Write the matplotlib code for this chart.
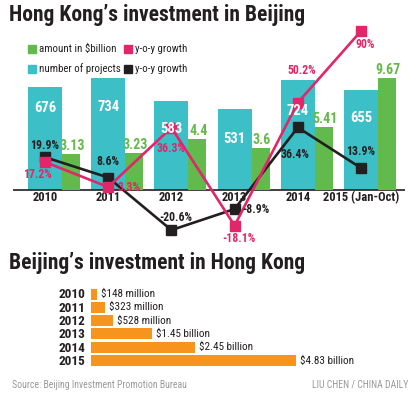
import numpy as np
import matplotlib.pyplot as plt
from matplotlib import font_manager
from matplotlib.patches import Rectangle

# Hong Kong's investment in Beijing
years = ['2010', '2011', '2012', '2013', '2014', '2015 (Jan-Oct)']
projects = [676, 734, 583, 531, 724, 655]
amount = [3.13, 3.23, 4.4, 3.6, 5.41, 9.67]            # $ billion
amount_growth = [17.2, 3.3, 36.3, -18.1, 50.2, 90]      # %
project_growth = [19.9, 8.6, -20.6, -8.9, 36.4, 13.9]   # %

# Beijing's investment in Hong Kong
bj_years = ['2010', '2011', '2012', '2013', '2014', '2015']
bj_invest = [148, 323, 528, 1450, 2450, 4830]           # $ million
bj_labels = ['$148 million', '$323 million', '$528 million',
             '$1.45 billion', '$2.45 billion', '$4.83 billion']

installed = {f.name for f in font_manager.fontManager.ttflist}

def pick(cands):
    for c in cands:
        if c in installed:
            return c
    return 'DejaVu Sans'

NARROW = pick(['Roboto Condensed', 'PT Sans Narrow', 'Archivo Narrow',
               'Liberation Sans Narrow', 'Roboto'])
plt.rcParams['font.family'] = [NARROW, 'DejaVu Sans']

CYAN = '#3dbfc7'
GREEN = '#62b94c'
GREEN_TXT = '#66b84a'
PINK = '#e2266a'
BLACK = '#231f20'
ORANGE = '#f7941d'
GRAY = '#999999'

W, H = 418, 399

def fx(px):
    return px / W

def fy(py):
    return 1 - py / H

fig = plt.figure(figsize=(W / 100, H / 100), dpi=100)

# ---- top chart ----
gap = 63.2      # px between groups
cw, gw = 34, 18  # bar widths px
proj_px = 0.1525
amt_px = 11.6
gr_px = 1.8

ax = fig.add_axes([0, fy(240), 1, (240 - 20) / H])
ax.set_xlim(-45 / gap, (W - 45) / gap)
ax.set_ylim(-50 / proj_px, 170 / proj_px)
ax.axis('off')

x = np.arange(len(years))
ax.bar(x, projects, width=cw / gap, color=CYAN, zorder=1)
ax.hlines(0, (13 - 45) / gap, (405 - 45) / gap, color=BLACK, lw=1.2, zorder=3)
for xi, y in zip(x, years):
    ax.annotate(y, (xi, 0), xytext=(0, -1), textcoords='offset pixels',
                ha='center', va='top', color=BLACK, fontsize=9,
                fontweight='bold')

ax2 = ax.twinx()
ax2.set_ylim(-50 / amt_px, 170 / amt_px)
ax2.axis('off')
xg = x + (cw + gw) / 2 / gap
ax2.bar(xg, amount, width=gw / gap, color=GREEN)
for xi, v in zip(xg, amount):
    ax2.annotate(f'{v:g}', (xi, v), xytext=(1, 1), textcoords='offset pixels',
                 ha='center', va='bottom', color=GREEN_TXT, fontsize=10,
                 fontweight='bold')

ax3 = ax.twinx()
ax3.set_ylim((193 - 240) / gr_px, (193 - 20) / gr_px)
ax3.axis('off')
ax3.plot(x, project_growth, color=BLACK, lw=1.9, marker='s', ms=6.5, zorder=2)
ax3.plot(x, amount_growth, color=PINK, lw=1.9, marker='s', ms=6.5, zorder=3)

# project counts inside the cyan bars (kept above the lines so they stay readable)
proj_off = [-15, -23, -22, -24, -25, -22]
for xi, v, dy in zip(x, projects, proj_off):
    ax3.annotate(str(v), (xi, 0), xytext=(0, v * proj_px + dy - 3),
                 textcoords='offset pixels', ha='center', va='center',
                 color='white', fontsize=10.5, fontweight='bold', zorder=5)

pink_off = [(-8, -12, 'center'), (9, 0, 'left'), (0, -21, 'center'),
            (4, -13, 'center'), (4, 32, 'center'), (4, -14, 'center')]
black_off = [(0, 12, 'center'), (0, 16, 'center'), (4, 13, 'center'),
             (8, 0, 'left'), (-3, -27, 'center'), (0, 16, 'center')]
for xi, v, (dx, dy, ha) in zip(x, amount_growth, pink_off):
    ax3.annotate(f'{v:g}%', (xi, v), xytext=(dx, dy), textcoords='offset pixels',
                 ha=ha, va='center', color=PINK, fontsize=8.5, fontweight='bold')
for xi, v, (dx, dy, ha) in zip(x, project_growth, black_off):
    ax3.annotate(f'{v:g}%', (xi, v), xytext=(dx, dy), textcoords='offset pixels',
                 ha=ha, va='center', color=BLACK, fontsize=8.5, fontweight='bold')

# legend
legend = [(28, 49, GREEN, 'amount in $billion'), (124, 49, PINK, 'y-o-y growth'),
          (28, 69, CYAN, 'number of projects'), (124, 69, BLACK, 'y-o-y growth')]
for px, py, c, lab in legend:
    fig.add_artist(Rectangle((fx(px), fy(py + 4)), 8 / W, 8 / H,
                             transform=fig.transFigure, color=c))
    fig.text(fx(px + 11), fy(py), lab, ha='left', va='center',
             fontsize=7.8, color=BLACK)

# titles
fig.text(fx(9), fy(15), "Hong Kong\u2019s investment in Beijing", ha='left',
         va='center', fontsize=15.5, fontweight='heavy', color=BLACK)
fig.text(fx(9), fy(263), "Beijing\u2019s investment in Hong Kong", ha='left',
         va='center', fontsize=15.5, fontweight='heavy', color=BLACK)

# ---- bottom chart ----
row = 13.3
bx_px = 0.0424
axb = fig.add_axes([fx(91), fy(370), (W - 91) / W, (370 - 285) / H])
axb.set_xlim(0, (W - 91) / bx_px)
axb.set_ylim((370 - 294) / row, (285 - 294) / row)
axb.axis('off')
yb = np.arange(len(bj_years))
axb.barh(yb, bj_invest, height=11 / row, color=ORANGE)
for yi, v, lab, yr in zip(yb, bj_invest, bj_labels, bj_years):
    axb.annotate(lab, (v, yi), xytext=(4, 0), textcoords='offset pixels',
                 ha='left', va='center', fontsize=8, color=BLACK)
    axb.annotate(yr, (0, yi), xytext=(-6, -1), textcoords='offset pixels',
                 ha='right', va='center', fontsize=9.5, fontweight='bold',
                 color=BLACK)

fig.text(fx(12), fy(385), 'Source: Beijing Investment Promotion Bureau',
         ha='left', va='center', fontsize=7, color=GRAY)
fig.text(fx(408), fy(385), 'LIU CHEN / CHINA DAILY',
         ha='right', va='center', fontsize=7, color=GRAY)

fig.savefig('out.png', dpi=100)
